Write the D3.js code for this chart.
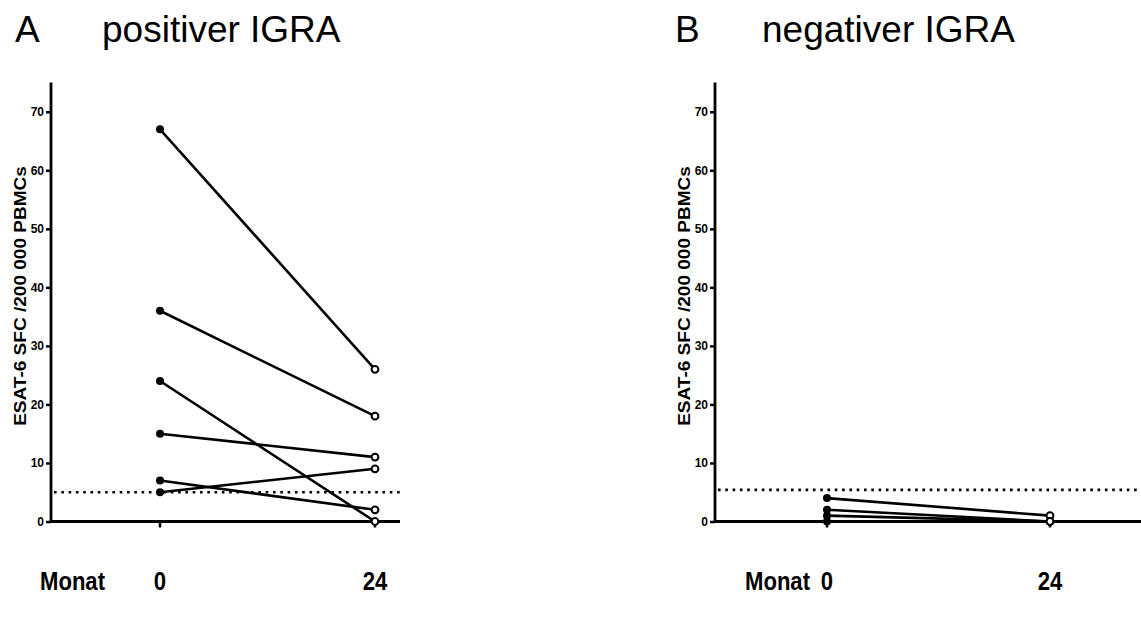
<!DOCTYPE html>
<html>
<head>
<meta charset="utf-8">
<script src="https://cdn.jsdelivr.net/npm/d3@7"></script>
<style>
  html, body { margin: 0; padding: 0; background: #fff; }
  svg { display: block; }
</style>
</head>
<body>
<svg id="chart" width="1141" height="621"></svg>
<script>
// ---- data ----
const months = [0, 24];
const yTicks = [0, 10, 20, 30, 40, 50, 60, 70];
const panelLetters = ["A", "B"];
const panelTitles = ["positiver IGRA", "negativer IGRA"];
const yLabel = "ESAT-6 SFC /200 000 PBMCs";
const xLabel = "Monat";
// Panel A: month 0 -> month 24 per subject
const posMonth0 = [67, 36, 24, 15, 7, 5];
const posMonth24 = [26, 18, 0, 11, 2, 9];
// Panel B
const negMonth0 = [4, 2, 1, 0];
const negMonth24 = [1, 0, 0, 0];
const cutoffs = [5, 5.4];

const svg = d3.select("#chart");
const font = "'Liberation Sans', Arial, sans-serif";

const panels = [
  { letter: panelLetters[0], title: panelTitles[0], m0: posMonth0, m24: posMonth24, cutoff: cutoffs[0],
    axisX: 51, xEnd: 400, xr: [160, 375], letterX: 15, titleX: 102, monatX: 40, labelX: 26 },
  { letter: panelLetters[1], title: panelTitles[1], m0: negMonth0, m24: negMonth24, cutoff: cutoffs[1],
    axisX: 715, xEnd: 1141, xr: [827, 1050], letterX: 675, titleX: 762, monatX: 745, labelX: 690 }
];

const y = d3.scaleLinear().domain([0, 75]).range([521.5, 82.5]);

panels.forEach(p => {
  const g = svg.append("g");
  const x = d3.scaleOrdinal().domain(months).range(p.xr);

  // title
  g.append("text").attr("x", p.letterX).attr("y", 42)
    .attr("font-family", font).attr("font-size", 37).text(p.letter);
  g.append("text").attr("x", p.titleX).attr("y", 42)
    .attr("font-family", font).attr("font-size", 37).text(p.title);

  // y axis
  const yAxis = d3.axisLeft(y).tickValues(yTicks).tickSize(5).tickPadding(2).tickFormat(d3.format("d"));
  const ya = g.append("g").attr("transform", `translate(${p.axisX},0)`).call(yAxis);
  ya.select(".domain").remove();
  ya.selectAll(".tick line").attr("stroke", "#000").attr("stroke-width", 2.5);
  ya.selectAll(".tick text").attr("font-family", font).attr("font-weight", "bold")
    .attr("font-size", 12).attr("fill", "#000");
  g.append("line").attr("x1", p.axisX).attr("x2", p.axisX)
    .attr("y1", y(75)).attr("y2", y(0) + 1)
    .attr("stroke", "#000").attr("stroke-width", 2.8);

  // x axis line
  g.append("line").attr("x1", p.axisX).attr("x2", p.xEnd)
    .attr("y1", y(0)).attr("y2", y(0))
    .attr("stroke", "#000").attr("stroke-width", 2.8);
  months.forEach(m => {
    g.append("line").attr("x1", x(m)).attr("x2", x(m))
      .attr("y1", y(0)).attr("y2", y(0) + 6)
      .attr("stroke", "#000").attr("stroke-width", 2.5);
  });

  // y label
  g.append("text")
    .attr("transform", `translate(${p.labelX},${296}) rotate(-90) scale(1.12,1)`)
    .attr("text-anchor", "middle")
    .attr("font-family", font).attr("font-weight", "bold").attr("font-size", 17)
    .text(yLabel);

  // cutoff dotted line
  g.append("line").attr("x1", p.axisX + 3).attr("x2", p.xEnd)
    .attr("y1", y(p.cutoff)).attr("y2", y(p.cutoff))
    .attr("stroke", "#000").attr("stroke-width", 2.6)
    .attr("stroke-dasharray", "2.6,4.7");

  // lines
  const pairs = p.m0.map((v, i) => [v, p.m24[i]]);
  g.selectAll("line.subj").data(pairs).enter().append("line")
    .attr("class", "subj")
    .attr("x1", x(0)).attr("x2", x(24))
    .attr("y1", d => y(d[0])).attr("y2", d => y(d[1]))
    .attr("stroke", "#000").attr("stroke-width", 2.6);

  // markers
  g.selectAll("circle.m0").data(p.m0).enter().append("circle")
    .attr("class", "m0").attr("cx", x(0)).attr("cy", d => y(d)).attr("r", 4)
    .attr("fill", "#000");
  g.selectAll("circle.m24").data(p.m24).enter().append("circle")
    .attr("class", "m24").attr("cx", x(24)).attr("cy", d => y(d)).attr("r", 3.4)
    .attr("fill", "#fff").attr("stroke", "#000").attr("stroke-width", 2);

  // bottom labels (condensed bold)
  g.append("text").attr("transform", `translate(${p.monatX},590) scale(0.85,1)`)
    .attr("font-family", font).attr("font-weight", "bold").attr("font-size", 26)
    .text(xLabel);
  months.forEach(m => {
    g.append("text").attr("transform", `translate(${x(m)},590) scale(0.85,1)`)
      .attr("text-anchor", "middle")
      .attr("font-family", font).attr("font-weight", "bold").attr("font-size", 26)
      .text(m);
  });
});
</script>
</body>
</html>
